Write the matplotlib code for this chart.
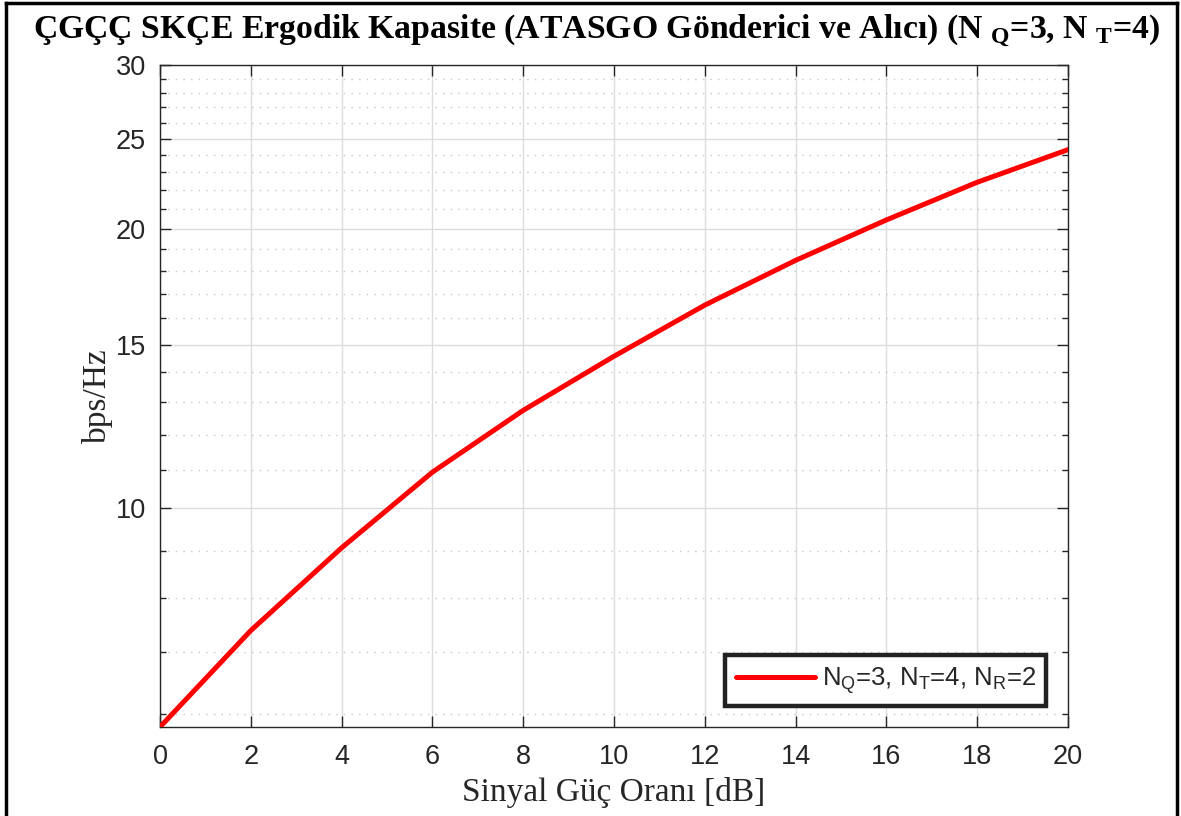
import matplotlib
matplotlib.use("Agg")
import matplotlib.pyplot as plt
from matplotlib.ticker import FixedLocator, NullFormatter, FixedFormatter
from matplotlib.lines import Line2D

# Data
snr_db = [0, 2, 4, 6, 8, 10, 12, 14, 16, 18, 20]
capacity = [5.81, 7.38, 9.06, 10.93, 12.74, 14.57, 16.54, 18.48, 20.43, 22.43, 24.32]
x_ticks = [0, 2, 4, 6, 8, 10, 12, 14, 16, 18, 20]
y_ticks = [10, 15, 20, 25, 30]
y_minor = [6, 7, 8, 9, 11, 12, 13, 14, 16, 17, 18, 19, 21, 22, 23, 24, 26, 27, 28, 29]
title = r"ÇGÇÇ SKÇE Ergodik Kapasite (ATASGO Gönderici ve Alıcı) (N $_{\mathbf{Q}}$=3, N $_{\mathbf{T}}$=4)"
xlabel = "Sinyal Güç Oranı [dB]"
ylabel = "bps/Hz"
legend_label = r"N$_{\mathrm{Q}}$=3, N$_{\mathrm{T}}$=4, N$_{\mathrm{R}}$=2"

plt.rcParams['mathtext.fontset'] = 'custom'
plt.rcParams['mathtext.rm'] = 'Liberation Sans'
plt.rcParams['mathtext.bf'] = 'Liberation Serif:bold'
plt.rcParams['mathtext.it'] = 'Liberation Sans:italic'

fig = plt.figure(figsize=(11.81, 8.16), dpi=100)
ax = fig.add_axes([160/1181, 1-727/816, (1068-160)/1181, (727-65)/816])

ax.plot(snr_db, capacity, color='#ff0000', lw=3.6, solid_capstyle='round', zorder=5,
        label=legend_label)
ax.set_yscale('log')
ax.set_xlim(0, 20)
ax.set_ylim(min(capacity), 30)

ax.xaxis.set_major_locator(FixedLocator(x_ticks))
ax.yaxis.set_major_locator(FixedLocator(y_ticks))
ax.yaxis.set_major_formatter(FixedFormatter([str(v) for v in y_ticks]))
ax.yaxis.set_minor_locator(FixedLocator(y_minor))
ax.yaxis.set_minor_formatter(NullFormatter())

ax.grid(True, which='major', color='#dcdcdc', lw=1.0, ls='-')
ax.grid(True, which='minor', axis='y', color='#c8c8c8', lw=1.0, ls=(0, (1, 4.5)))
ax.set_axisbelow(True)

ax.tick_params(which='both', direction='in', top=True, right=True, colors='#262626',
               labelsize=19.5, labelcolor='#262626')
ax.tick_params(which='major', length=8, width=1)
ax.tick_params(which='minor', length=4, width=1)
ax.tick_params(axis='x', pad=12)
ax.tick_params(axis='y', pad=10)
for lab in ax.get_xticklabels() + ax.get_yticklabels():
    lab.set_family('Liberation Sans')
for s in ax.spines.values():
    s.set_color('#262626')
    s.set_linewidth(1.0)

ax.set_xlabel(xlabel, family='Liberation Serif', fontsize=24, color='#262626', labelpad=5)
ax.set_ylabel(ylabel, family='Liberation Serif', fontsize=24, color='#262626', labelpad=2)
fig.text(0.5 * (33 + 1160) / 1181, 1 - 31/816, title, family='Liberation Serif',
         fontweight='bold', fontsize=24.3, ha='center', va='center', color='black')

leg = ax.legend(loc='lower right', bbox_to_anchor=(1046/1181, 1 - 706/816),
                bbox_transform=fig.transFigure, prop={'family': 'Liberation Sans', 'size': 18.5},
                frameon=True, fancybox=False, framealpha=1, handlelength=3.1, handletextpad=0.25,
                borderpad=0.4, borderaxespad=0)
leg.get_frame().set_edgecolor('#222222')
leg.get_frame().set_linewidth(3.2)
for t in leg.get_texts():
    t.set_color('#262626')

# figure border
for xs, ys in [([6/1181, 6/1181], [0, 1 - 3/816]),
               ([6/1181, 1177/1181], [1 - 3/816, 1 - 3/816]),
               ([1177/1181, 1177/1181], [1 - 3/816, 0])]:
    fig.add_artist(Line2D(xs, ys, transform=fig.transFigure, color='black', lw=2.5))

fig.savefig('out.png', dpi=100)
